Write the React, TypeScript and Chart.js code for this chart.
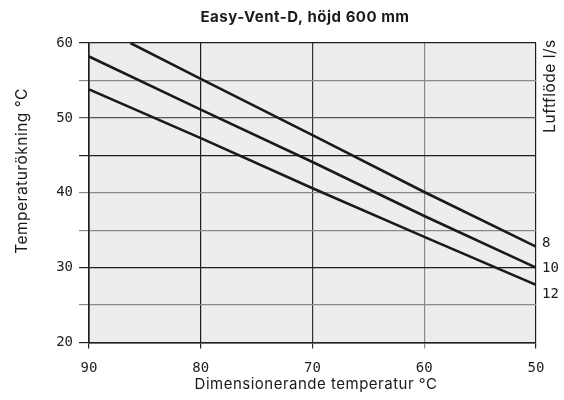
import React, { useEffect, useRef } from "react";
import { Chart, registerables } from "chart.js";

Chart.register(...registerables);

const titleText = "Easy-Vent-D, höjd 600 mm";
const xTitle = "Dimensionerande temperatur °C";
const yTitle = "Temperaturökning °C";
const rightTitle = "Luftflöde l/s";

const flowLabels = ["8", "10", "12"];
const flow8 = [
  { x: 86.3, y: 60 },
  { x: 80, y: 55.2 },
  { x: 70, y: 47.7 },
  { x: 60, y: 40.1 },
  { x: 50, y: 32.8 },
];
const flow10 = [
  { x: 90, y: 58.2 },
  { x: 80, y: 51.1 },
  { x: 70, y: 44.1 },
  { x: 60, y: 36.9 },
  { x: 50, y: 30.0 },
];
const flow12 = [
  { x: 90, y: 53.8 },
  { x: 80, y: 47.3 },
  { x: 70, y: 40.6 },
  { x: 60, y: 34.1 },
  { x: 50, y: 27.7 },
];
const xMin = 50;
const xMax = 90;
const yMin = 20;
const yMax = 60;

const SANS = "Inter, 'Liberation Sans', sans-serif";
const MONO = "'DejaVu Sans Mono', monospace";
const DARK = "#1e1e1e";
const GRAY = "#8a8a8a";
const MID = "#555555";

const labelNudge = [-3, 1, 10];

const decorPlugin = {
  id: "decor",
  beforeDraw(chart: any) {
    const { ctx, chartArea } = chart;
    ctx.save();
    ctx.fillStyle = "#ededed";
    ctx.fillRect(chartArea.left, chartArea.top, chartArea.right - chartArea.left, chartArea.bottom - chartArea.top);
    ctx.restore();
  },
  afterDraw(chart: any) {
    const { ctx, chartArea } = chart;
    ctx.save();
    ctx.fillStyle = "#1a1a1a";
    ctx.textAlign = "center";
    ctx.textBaseline = "middle";
    (ctx as any).letterSpacing = "0.5px";
    // title
    ctx.font = `bold 15px ${SANS}`;
    ctx.fillText(titleText, 305, 17);
    // x title
    ctx.font = `15px ${SANS}`;
    ctx.fillText(xTitle, 316, 384);
    // y title
    ctx.save();
    ctx.translate(22, 171);
    ctx.rotate(-Math.PI / 2);
    ctx.font = `15.5px ${SANS}`;
    ctx.fillText(yTitle, 0, 0);
    ctx.restore();
    // right title
    ctx.save();
    ctx.translate(550, 86);
    ctx.rotate(-Math.PI / 2);
    ctx.font = `15.5px ${SANS}`;
    ctx.fillText(rightTitle, 0, 0);
    ctx.restore();
    // flow labels
    (ctx as any).letterSpacing = "0px";
    ctx.font = `14px ${MONO}`;
    ctx.textAlign = "left";
    chart.data.datasets.forEach((ds: any, i: number) => {
      const meta = chart.getDatasetMeta(i);
      const last = meta.data[meta.data.length - 1];
      ctx.fillText(flowLabels[i], chartArea.right + 6, last.y + labelNudge[i]);
    });
    ctx.restore();
  },
};

function hColor(v: number) {
  if (v === 60 || v === 20) return DARK;
  if (v === 45 || v === 30) return DARK;
  if (v === 50) return MID;
  return GRAY;
}
function vColor(v: number) {
  if (v === 90 || v === 50) return DARK;
  if (v === 80) return DARK;
  if (v === 70) return "#333333";
  return GRAY;
}

export default function App() {
  const ref = useRef<HTMLCanvasElement>(null);
  useEffect(() => {
    document.body.style.margin = "0";
    const lineStyle = { borderColor: "#1a1a1a", borderWidth: 2.6, pointRadius: 0, fill: false, tension: 0 };
    const chart = new Chart(ref.current!, {
      type: "line",
      data: {
        datasets: [
          { label: flowLabels[0], data: flow8, ...lineStyle },
          { label: flowLabels[1], data: flow10, ...lineStyle },
          { label: flowLabels[2], data: flow12, ...lineStyle },
        ],
      },
      plugins: [decorPlugin],
      options: {
        animation: false,
        responsive: false,
        maintainAspectRatio: false,
        layout: { padding: { left: 0, top: 43, right: 28, bottom: 0 } },
        plugins: { legend: { display: false }, tooltip: { enabled: false }, title: { display: false } },
        scales: {
          x: {
            type: "linear",
            min: xMin,
            max: xMax,
            reverse: true,
            afterFit: (s: any) => {
              s.height = 57.5;
            },
            ticks: {
              stepSize: 10,
              autoSkip: false,
              maxRotation: 0,
              padding: 11,
              color: "#222",
              font: { family: MONO, size: 14 },
            },
            grid: {
              color: (c: any) => vColor(c.tick?.value),
              lineWidth: 1.2,
              tickLength: 6,
              drawTicks: true,
            },
            border: { display: true, color: DARK, width: 1.6 },
          },
          y: {
            type: "linear",
            min: yMin,
            max: yMax,
            afterFit: (s: any) => {
              s.width = 89;
            },
            ticks: {
              stepSize: 5,
              autoSkip: false,
              padding: 6,
              color: "#222",
              font: { family: MONO, size: 14 },
              callback: (v: any) => (Number(v) % 10 === 0 ? String(v) : ""),
            },
            grid: {
              color: (c: any) => hColor(c.tick?.value),
              lineWidth: 1.2,
              tickLength: 10,
            },
            border: { display: true, color: DARK, width: 1.6 },
          },
        },
      },
    } as any);
    return () => chart.destroy();
  }, []);
  return (
    <div style={{ width: 564, height: 400, background: "#fff" }}>
      <canvas ref={ref} width={564} height={400} style={{ display: "block" }} />
    </div>
  );
}
